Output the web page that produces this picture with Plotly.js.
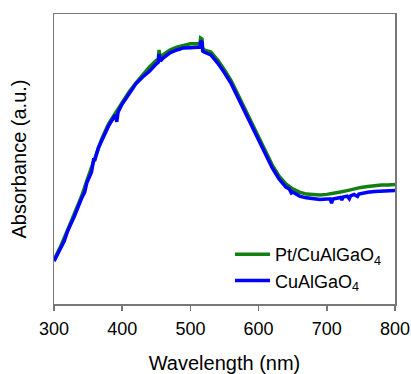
<!DOCTYPE html>
<html>
<head>
<meta charset="utf-8">
<script src="https://cdn.plot.ly/plotly-3.0.1.min.js"></script>
<style>html,body{margin:0;padding:0;background:#fff;}#chart{width:411px;height:374px;}</style>
</head>
<body>
<div id="chart"></div>
<script>
// Pt/CuAlGaO4 spectrum (wavelength nm, absorbance a.u.)
var ptWavelength = [300,310,320,330,340,350,360,370,380,390,400,410,420,430,440,450,453,454,456,460,470,480,490,500,510,514,515,517,518,520,530,540,550,560,570,580,590,600,610,620,630,640,650,660,670,680,690,700,710,720,730,740,750,760,770,780,790,800];
var ptAbsorbance = [0.152,0.200,0.255,0.310,0.369,0.438,0.507,0.569,0.621,0.659,0.697,0.731,0.762,0.790,0.817,0.840,0.845,0.876,0.848,0.859,0.876,0.886,0.893,0.897,0.897,0.897,0.917,0.914,0.883,0.876,0.869,0.841,0.807,0.769,0.721,0.672,0.624,0.576,0.524,0.479,0.441,0.414,0.397,0.386,0.379,0.376,0.376,0.378,0.381,0.386,0.391,0.397,0.402,0.405,0.409,0.410,0.410,0.412];

// CuAlGaO4 spectrum
var cuWavelength = [300,303,310,315,320,330,340,345,348,350,355,358,360,365,370,380,390,392,394,400,410,420,430,440,450,453,454,456,460,470,480,490,500,510,514,515,517,518,520,530,540,550,560,570,580,590,600,610,620,630,640,645,648,650,660,670,680,690,700,705,707,709,720,722,724,730,733,735,740,745,747,750,760,770,780,790,800];
var cuAbsorbance = [0.148,0.162,0.197,0.217,0.252,0.303,0.362,0.386,0.417,0.428,0.455,0.497,0.497,0.538,0.562,0.614,0.652,0.628,0.662,0.690,0.724,0.759,0.783,0.803,0.828,0.834,0.862,0.838,0.848,0.866,0.876,0.883,0.884,0.884,0.886,0.907,0.903,0.872,0.869,0.859,0.831,0.797,0.759,0.710,0.662,0.614,0.566,0.514,0.469,0.431,0.403,0.397,0.383,0.386,0.372,0.366,0.362,0.360,0.362,0.362,0.348,0.362,0.367,0.359,0.369,0.372,0.363,0.373,0.378,0.371,0.379,0.381,0.385,0.388,0.390,0.391,0.391];

var seriesNames = ['Pt/CuAlGaO<sub>4</sub>', 'CuAlGaO<sub>4</sub>'];
var xTicks = [300,400,500,600,700,800];

var traces = [
  {x: ptWavelength, y: ptAbsorbance, name: seriesNames[0], type: 'scatter', mode: 'lines',
   line: {color: '#118011', width: 3.5}},
  {x: cuWavelength, y: cuAbsorbance, name: seriesNames[1], type: 'scatter', mode: 'lines',
   line: {color: '#0000ff', width: 3.5}}
];

var font = 'Arial, "Liberation Sans", sans-serif';
var layout = {
  width: 411, height: 374,
  margin: {l: 54, r: 16, t: 14, b: 70},
  paper_bgcolor: '#fff', plot_bgcolor: '#fff',
  font: {family: font, color: '#000', size: 18},
  showlegend: true,
  legend: {x: (230 - 54) / 341, y: (304 - 236) / 290, xanchor: 'left', yanchor: 'top',
           bgcolor: 'rgba(0,0,0,0)', itemwidth: 35, font: {size: 18, family: font}},
  xaxis: {
    range: [300, 800], tickvals: xTicks, ticktext: xTicks.map(String),
    ticks: 'outside', ticklen: 5, tickwidth: 1.5, tickcolor: '#777',
    ticklabelstandoff: 3,
    showline: true, linecolor: '#777', linewidth: 1.5, mirror: true,
    showgrid: false, zeroline: false,
    tickfont: {size: 18, family: font},
    title: {text: 'Wavelength (nm)', font: {size: 20, family: font}, standoff: 20}
  },
  yaxis: {
    range: [0, 1], showticklabels: false, ticks: '',
    showline: true, linecolor: '#777', linewidth: 1.5, mirror: true,
    showgrid: false, zeroline: false,
    title: {text: 'Absorbance (a.u.)', font: {size: 20, family: font}, standoff: 20}
  }
};

Plotly.newPlot('chart', traces, layout, {displayModeBar: false, staticPlot: true});
</script>
</body>
</html>
